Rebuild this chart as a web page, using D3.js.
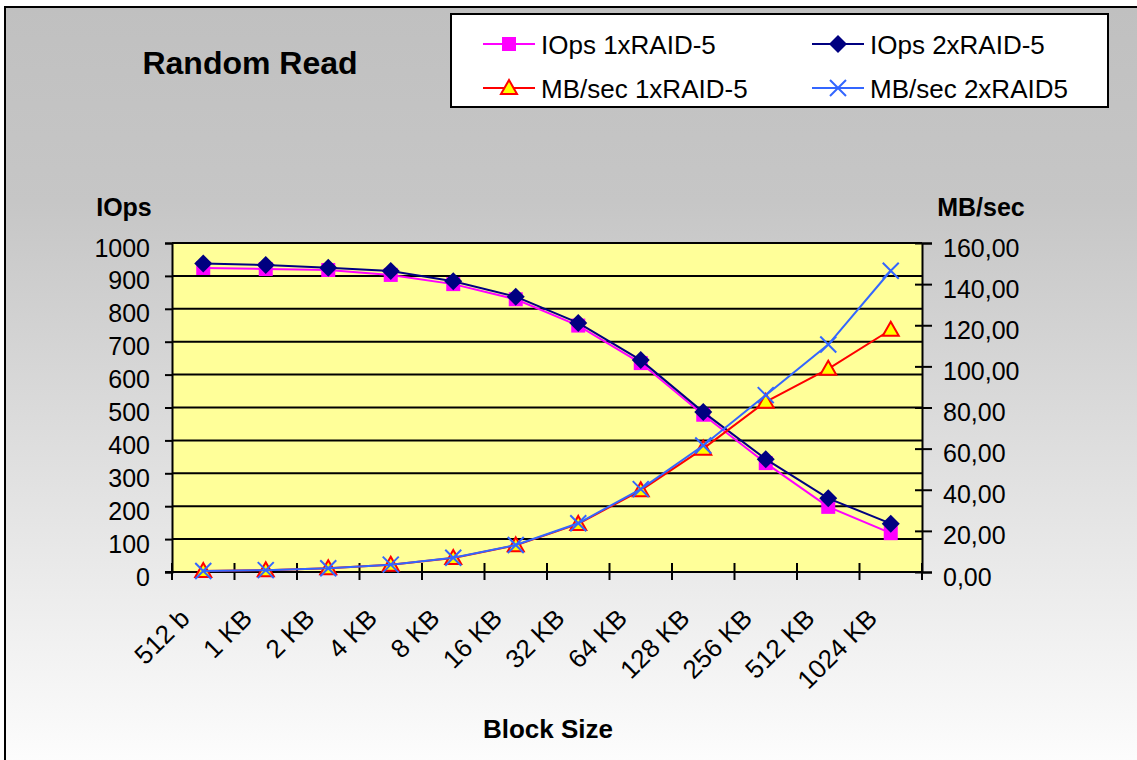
<!DOCTYPE html>
<html>
<head>
<meta charset="utf-8">
<script src="https://cdn.jsdelivr.net/npm/d3@7"></script>
<style>
  body { margin: 0; padding: 0; background: #fff; }
  svg text { font-family: "Liberation Sans", Arial, sans-serif; }
</style>
</head>
<body>
<div id="chart"></div>
<script>
// block sizes along the x axis
var categories = ["512 b", "1 KB", "2 KB", "4 KB", "8 KB", "16 KB", "32 KB", "64 KB", "128 KB", "256 KB", "512 KB", "1024 KB"];

// IOps (left axis)
var iops1 = [924, 921, 918, 903, 875, 829, 749, 635, 478, 331, 198, 118];
var iops2 = [938, 933, 925, 915, 884, 837, 757, 644, 486, 343, 224, 147];

// MB/sec (right axis)
var mb1 = [0.45, 0.90, 1.79, 3.53, 6.84, 12.95, 23.4, 39.7, 60.0, 82.8, 98.8, 117.8];
var mb2 = [0.46, 0.91, 1.81, 3.57, 6.91, 13.1, 23.7, 40.3, 61.5, 86.0, 110.6, 146.5];

var leftTicks = [0, 100, 200, 300, 400, 500, 600, 700, 800, 900, 1000];
var rightTicks = [0, 20, 40, 60, 80, 100, 120, 140, 160];

var W = 1137, H = 760;
var plot = {left: 172, right: 922, top: 243, bottom: 572};

var svg = d3.select("#chart").append("svg")
  .attr("width", W)
  .attr("height", H);

// background gradient, grey on top fading to white
var defs = svg.append("defs");
var grad = defs.append("linearGradient")
  .attr("id", "bg")
  .attr("x1", 0).attr("y1", 0).attr("x2", 0).attr("y2", 1);
grad.append("stop").attr("offset", "0%").attr("stop-color", "#c0c0c0");
grad.append("stop").attr("offset", "25%").attr("stop-color", "#c6c6c6");
grad.append("stop").attr("offset", "100%").attr("stop-color", "#ffffff");

svg.append("rect")
  .attr("x", 0).attr("y", 0).attr("width", W).attr("height", H)
  .attr("fill", "#fff");
svg.append("rect")
  .attr("x", 5).attr("y", 7).attr("width", W + 20).attr("height", H + 20)
  .attr("fill", "url(#bg)")
  .attr("stroke", "#000")
  .attr("stroke-width", 2);

// scales
var x = d3.scaleBand()
  .domain(categories)
  .range([plot.left, plot.right]);

var y = d3.scaleLinear()
  .domain([0, 1000])
  .range([plot.bottom, plot.top]);

var y2 = d3.scaleLinear()
  .domain([0, 160])
  .range([plot.bottom, plot.top]);

function cx(d, i) { return x(categories[i]) + x.bandwidth() / 2; }

// plot area
svg.append("rect")
  .attr("x", plot.left).attr("y", plot.top)
  .attr("width", plot.right - plot.left)
  .attr("height", plot.bottom - plot.top)
  .attr("fill", "#ffff99");

// horizontal gridlines
svg.append("g")
  .selectAll("line")
  .data(leftTicks.slice(1))
  .enter()
  .append("line")
    .attr("x1", plot.left).attr("x2", plot.right)
    .attr("y1", function(d) { return y(d); })
    .attr("y2", function(d) { return y(d); })
    .attr("stroke", "#000")
    .attr("stroke-width", 2);

// left axis
var leftAxis = svg.append("g")
  .attr("transform", "translate(" + plot.left + ",0)")
  .call(d3.axisLeft(y).tickValues(leftTicks).tickSize(7).tickPadding(15)
    .tickFormat(function(d) { return String(d); }));
leftAxis.select(".domain").attr("stroke", "#000").attr("stroke-width", 2);
leftAxis.selectAll(".tick line").attr("stroke", "#000").attr("stroke-width", 2);
leftAxis.selectAll(".tick text")
  .style("font-size", "25px")
  .attr("fill", "#000")
  .attr("dy", "0.68em")
  .attr("y", -4);

// right axis
var rightAxis = svg.append("g")
  .attr("transform", "translate(" + plot.right + ",0)")
  .call(d3.axisRight(y2).tickValues(rightTicks).tickSize(10).tickPadding(11)
    .tickFormat(function(d) { return d3.format(".2f")(d).replace(".", ","); }));
rightAxis.select(".domain").attr("stroke", "#000").attr("stroke-width", 2);
rightAxis.selectAll(".tick line")
  .attr("x1", -7)
  .attr("stroke", "#000").attr("stroke-width", 2);
rightAxis.selectAll(".tick text")
  .style("font-size", "25px")
  .attr("fill", "#000")
  .attr("dy", "0.68em")
  .attr("y", -4);

// bottom axis, ticks on band edges crossing the axis
var edges = categories.map(function(c) { return x(c); }).concat([plot.right]);
svg.append("g")
  .selectAll("line")
  .data(edges)
  .enter()
  .append("line")
    .attr("x1", function(d) { return d; }).attr("x2", function(d) { return d; })
    .attr("y1", plot.bottom - 9).attr("y2", plot.bottom + 8)
    .attr("stroke", "#000")
    .attr("stroke-width", 2);
svg.append("line")
  .attr("x1", plot.left - 7).attr("x2", plot.right)
  .attr("y1", plot.bottom).attr("y2", plot.bottom)
  .attr("stroke", "#000")
  .attr("stroke-width", 2);

svg.append("g")
  .selectAll("text")
  .data(categories)
  .enter()
  .append("text")
    .attr("transform", function(d) {
      return "translate(" + (x(d) + x.bandwidth() / 2 - 12) + "," + 620 + ") rotate(-45)";
    })
    .attr("text-anchor", "end")
    .style("font-size", "26px")
    .text(function(d) { return d; });

// series
var series = [
  {name: "IOps 1xRAID-5", values: iops1, scale: y, color: "#ff00ff", marker: "square"},
  {name: "IOps 2xRAID-5", values: iops2, scale: y, color: "#000080", marker: "diamond"},
  {name: "MB/sec 1xRAID-5", values: mb1, scale: y2, color: "#ff0000", marker: "triangle"},
  {name: "MB/sec 2xRAID5", values: mb2, scale: y2, color: "#3366ff", marker: "cross"}
];

function drawMarker(g, s, px, py) {
  if (s.marker === "square") {
    g.append("rect")
      .attr("x", px - 7).attr("y", py - 7)
      .attr("width", 14).attr("height", 14)
      .attr("fill", s.color);
  } else if (s.marker === "diamond") {
    g.append("path")
      .attr("d", "M" + px + "," + (py - 9) + "L" + (px + 9) + "," + py +
        "L" + px + "," + (py + 9) + "L" + (px - 9) + "," + py + "Z")
      .attr("fill", s.color);
  } else if (s.marker === "triangle") {
    g.append("path")
      .attr("d", "M" + px + "," + (py - 8) + "L" + (px + 8) + "," + (py + 6) +
        "L" + (px - 8) + "," + (py + 6) + "Z")
      .attr("fill", "#ffff00")
      .attr("stroke", s.color)
      .attr("stroke-width", 2);
  } else {
    g.append("path")
      .attr("d", "M" + (px - 8) + "," + (py - 8) + "L" + (px + 8) + "," + (py + 8) +
        "M" + (px + 8) + "," + (py - 8) + "L" + (px - 8) + "," + (py + 8))
      .attr("stroke", s.color)
      .attr("stroke-width", 2);
  }
}

series.forEach(function(s) {
  var line = d3.line()
    .x(function(d, i) { return cx(d, i); })
    .y(function(d) { return s.scale(d); });
  svg.append("path")
    .datum(s.values)
    .attr("d", line)
    .attr("fill", "none")
    .attr("stroke", s.color)
    .attr("stroke-width", 2);
  var mg = svg.append("g");
  s.values.forEach(function(v, i) {
    drawMarker(mg, s, cx(v, i), s.scale(v));
  });
});

// titles
svg.append("text")
  .attr("x", 250).attr("y", 74)
  .attr("text-anchor", "middle")
  .style("font-size", "32px")
  .style("font-weight", "bold")
  .text("Random Read");

svg.append("text")
  .attr("x", 124).attr("y", 216)
  .attr("text-anchor", "middle")
  .style("font-size", "25px")
  .style("font-weight", "bold")
  .text("IOps");

svg.append("text")
  .attr("x", 981).attr("y", 216)
  .attr("text-anchor", "middle")
  .style("font-size", "25px")
  .style("font-weight", "bold")
  .text("MB/sec");

svg.append("text")
  .attr("x", 548).attr("y", 738)
  .attr("text-anchor", "middle")
  .style("font-size", "26px")
  .style("font-weight", "bold")
  .text("Block Size");

// legend
var legend = svg.append("g");
legend.append("rect")
  .attr("x", 451).attr("y", 14)
  .attr("width", 657).attr("height", 93)
  .attr("fill", "#fff")
  .attr("stroke", "#000")
  .attr("stroke-width", 2);

var legendPos = [
  {x: 483, y: 44}, {x: 812, y: 44},
  {x: 483, y: 88}, {x: 812, y: 88}
];

series.forEach(function(s, i) {
  var p = legendPos[i];
  legend.append("line")
    .attr("x1", p.x).attr("x2", p.x + 52)
    .attr("y1", p.y).attr("y2", p.y)
    .attr("stroke", s.color)
    .attr("stroke-width", 2);
  drawMarker(legend, s, p.x + 26, p.y);
  legend.append("text")
    .attr("x", p.x + 58).attr("y", p.y + 10)
    .style("font-size", "26px")
    .text(s.name);
});
</script>
</body>
</html>
